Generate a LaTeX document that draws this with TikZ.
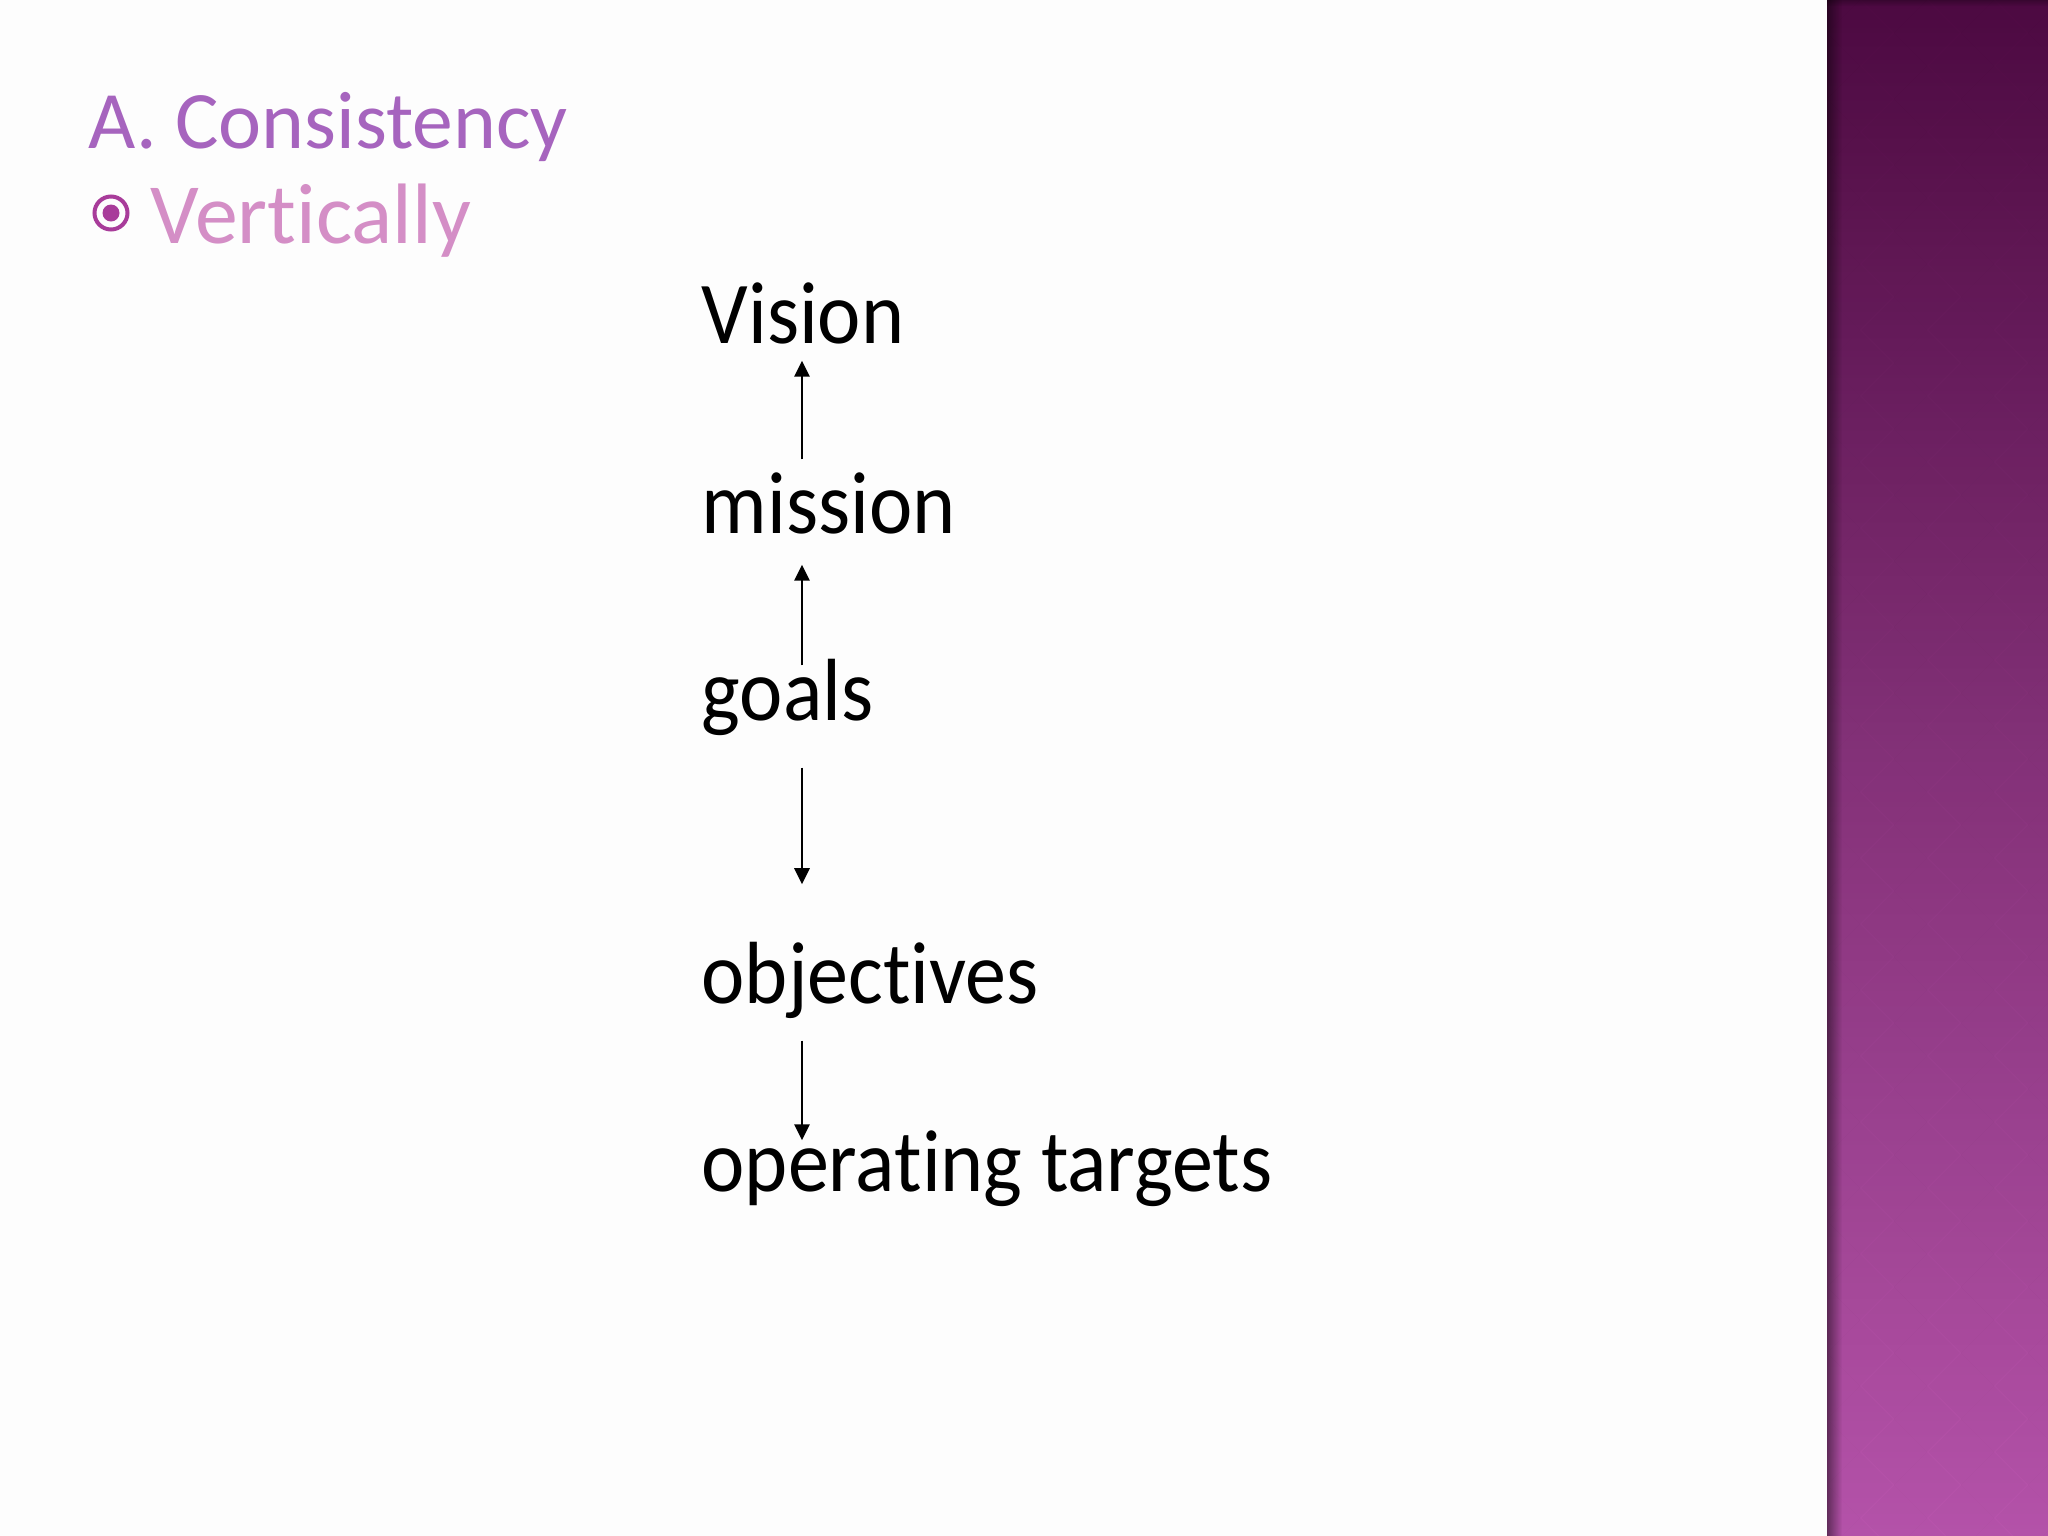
\documentclass[tikz,border=0pt]{standalone}
\usepackage{fontspec}
\setmainfont{Carlito}
\newfontfamily\bodyfont[FakeStretch=0.93, Ligatures=NoCommon]{Carlito}
\newfontfamily\headfont[Ligatures=NoCommon]{Carlito}
\usetikzlibrary{arrows.meta,fadings}
\definecolor{titlepurple}{RGB}{166,100,190}
\definecolor{subpink}{RGB}{212,142,198}
\definecolor{bulletmag}{RGB}{168,60,154}
\definecolor{bandtop}{RGB}{80,10,68}
\definecolor{bandmid}{RGB}{138,52,126}
\definecolor{bandbot}{RGB}{188,86,176}
\tikzset{
  word/.style={anchor=base west, inner sep=0pt, text height=5.8mm, text depth=1.6mm,
    font=\bodyfont\fontsize{25.1pt}{30pt}\selectfont, text=black},
  link/.style={line width=0.8pt, -{Triangle[length=1.6mm, width=1.5mm]}},
  title/.style={anchor=base west, inner sep=0pt, text=titlepurple,
    font=\headfont\fontsize{23.2pt}{28pt}\selectfont},
  sub/.style={anchor=base west, inner sep=0pt, text=subpink,
    font=\headfont\fontsize{24.4pt}{28pt}\selectfont},
}
\begin{document}
\begin{tikzpicture}[x={(0.01cm,0)}, y={(0,-0.01cm)}]
\useasboundingbox (0,0) rectangle (2048,1536);
\fill[white!99.3!black] (0,0) rectangle (2048,1536);
% right band
\shade[top color=bandtop, bottom color=bandbot, middle color=bandmid] (1827,0) rectangle (2048,1536);
\begin{scope}
\clip (1827,0) rectangle (2048,1536);
\foreach \j in {0,...,47} {
  \pgfmathsetmacro{\off}{mod(\j,2)*33}
  \foreach \i in {0,...,4} {
    \fill[black, opacity=0.04] (1827+\off+\i*67,\j*33-33) -- ++(33,33) -- ++(-33,33) -- ++(-33,-33) -- cycle;
  }
}
\end{scope}
\fill[black, opacity=0.45, path fading=east] (1827,0) rectangle (1842,1536);
\fill[black, opacity=0.25, path fading=south] (1827,0) rectangle (2048,6);
% title
\node[title] (title) at (88,148) {A. Consistency};
\draw[bulletmag, line width=0.4mm] (111,213) circle (16.5);
\fill[bulletmag] (111,213) circle (8.5);
\node[sub] (sub) at (150,243) {Vertically};
% diagram
\coordinate (axis) at (802,0);
\node[word] (vision) at (701,343) {Vision};
\node[word] (mission) at (701,533) {mission};
\node[word] (goals) at (701,720) {goals};
\node[word] (objectives) at (701,1003) {objectives};
\node[word] (operating) at (701,1191) {operating targets};
\draw[link, shorten <=1.5mm, shorten >=0.1mm] (mission.north -| axis) -- (vision.south -| axis);
\draw[link, shorten <=-0.4mm, shorten >=1.5mm] (goals.north -| axis) -- (mission.south -| axis);
\draw[link, shorten <=3.1mm, shorten >=6mm] (goals.south -| axis) -- (objectives.north -| axis);
\draw[link, shorten <=2.1mm, shorten >=-0.8mm] (objectives.south -| axis) -- (operating.north -| axis);
\end{tikzpicture}
\end{document}
